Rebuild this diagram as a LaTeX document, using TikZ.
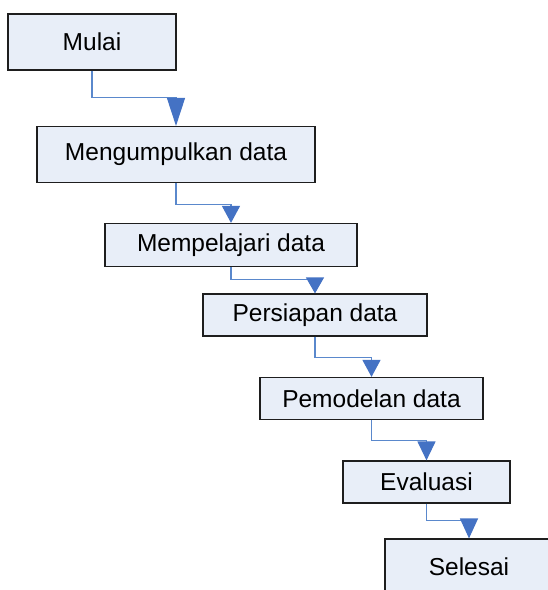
\documentclass[tikz,border=0pt]{standalone}
\usepackage{fontspec}
\setmainfont{Liberation Sans}
\usetikzlibrary{arrows.meta,positioning}
\definecolor{boxfill}{HTML}{E8EEF8}
\definecolor{boxline}{HTML}{1E1E1E}
\definecolor{linkblue}{HTML}{5A88CC}
\definecolor{tipblue}{HTML}{4472C4}
\tikzset{
  stepbox/.style = {rectangle, draw=boxline, fill=boxfill, line width=1.2pt,
                    inner sep=0pt, align=center, font=\fontsize{24.5}{29}\selectfont},
  flow/.style    = {-{Triangle[length=#1,width=18pt,color=tipblue,fill=tipblue]},
                    draw=linkblue, line width=1.2pt},
  flow/.default  = 17pt,
}

\begin{document}
\begin{tikzpicture}[x=1pt,y=-1pt]
  \useasboundingbox (0,0) rectangle (548,590);
  \clip (0,0) rectangle (548,590);
  \fill[white] (0,0) rectangle (548,590);
  % tahapan
  \node[stepbox, minimum width=168pt, minimum height=56pt] (mulai) at (92,42) {Mulai};
  \node[stepbox, minimum width=278pt, minimum height=56pt] (kumpul) at (176,154.5) {Mengumpulkan data};
  \node[stepbox, minimum width=252pt, minimum height=43pt] (pelajari) at (231,245) {Mempelajari data};
  \node[stepbox, minimum width=224pt, minimum height=42pt] (siap) at (315,315) {Persiapan data};
  \node[stepbox, minimum width=223pt, minimum height=42pt] (model) at (371.5,398.5) {Pemodelan data};
  \node[stepbox, minimum width=167pt, minimum height=42pt] (eval) at (426.5,482) {Evaluasi};
  \node[stepbox, minimum width=168pt, minimum height=56pt] (selesai) at (469,567) {Selesai};
  % alur
  \draw[flow=28pt] (mulai.south) -- ++(0,27) -| (kumpul.north);
  \draw[flow] (kumpul.south) -- ++(0,21) -| (pelajari.north);
  \draw[flow=16pt] (pelajari.south) -- ++(0,12.5) -| (siap.north);
  \draw[flow] (siap.south) -- ++(0,21) -| (model.north);
  \draw[flow=19pt] (model.south) -- ++(0,20.5) -| (eval.north);
  \draw[flow=20pt] (eval.south) -- ++(0,17) -| (selesai.north);
\end{tikzpicture}
\end{document}
